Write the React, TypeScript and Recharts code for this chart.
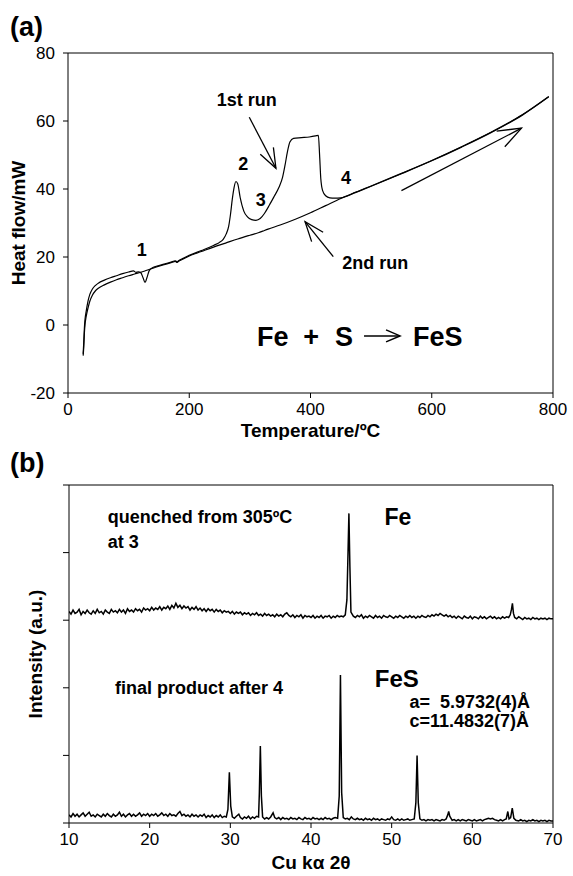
import React from "react";
import { LineChart, Line, XAxis, YAxis, ReferenceLine, ReferenceDot } from "recharts";

const FONT = "'Liberation Sans', Arial, sans-serif";
const BLACK = "#000";

// (a) DSC, 1st run
const run1Temp = [
  25, 26, 27, 28, 30, 33, 36, 40, 45, 50,
  60, 70, 80, 90, 100, 108, 112, 116, 120, 124,
  127, 130, 134, 140, 150, 160, 170, 177, 180, 183,
  190, 200, 220, 240, 250, 256, 261, 265, 268, 271,
  274, 277, 280, 284, 290, 296, 303, 310, 317, 324,
  332, 340, 348, 354, 358, 362, 366, 372, 385, 398,
  408, 413, 415, 417, 420, 425, 432, 440, 450, 475,
  500, 550, 600, 650, 700, 750, 793,
];
const run1Flow = [
  -8.5, -5, -1, 1.5, 4, 7, 9, 10.5, 11.6, 12.3,
  13.2, 13.9, 14.5, 15.1, 15.6, 15.9, 15.5, 15.6, 15.4, 13.8,
  12.5, 13.8, 16.0, 16.9, 17.5, 18.0, 18.5, 18.9, 18.6, 19.0,
  19.6, 20.5, 21.9, 23.4, 24.3, 25.2, 26.8, 29, 32.5, 37,
  40.5, 42.2, 41.5, 37.5, 33.5, 31.8, 31, 30.8, 31.3, 32.8,
  35.2, 37.8, 40.5, 43.5, 47, 51, 53.8, 54.9, 55.1, 55.3,
  55.6, 55.8, 50, 43, 39.5, 38, 37.4, 37.3, 37.4, 39.1,
  40.9, 44.6, 48.4, 52.5, 56.9, 61.9, 67.2,
];

// (a) DSC, 2nd run
const run2Temp = [
  25, 26, 27, 28, 30, 33, 36, 40, 45, 50,
  60, 70, 80, 90, 100, 110, 120, 130, 140, 150,
  160, 170, 177, 180, 183, 190, 200, 220, 240, 260,
  280, 300, 315, 321, 330, 350, 375, 400, 425, 450,
  475, 500, 550, 600, 650, 700, 750, 793,
];
const run2Flow = [
  -9, -6.5, -2.5, 0, 2.5, 5, 7, 8.7, 10, 10.8,
  11.8, 12.6, 13.3, 13.9, 14.5, 15.0, 15.5, 16.1, 16.7, 17.3,
  17.8, 18.3, 18.7, 18.4, 18.8, 19.4, 20.3, 21.6, 22.9, 24.1,
  25.3, 26.4, 27.2, 27.6, 28.2, 29.4, 31.1, 33.0, 35.1, 37.2,
  39.0, 40.8, 44.5, 48.3, 52.4, 56.8, 61.8, 67.1,
];

const dscXTicks = [0, 200, 400, 600, 800];
const dscYTicks = [-20, 0, 20, 40, 60, 80];

// (b) XRD, quenched from 305 C at 3
const quenchedAngle = [
  10, 10.25, 10.5, 10.75, 11, 11.25, 11.5, 11.75,
  12, 12.25, 12.5, 12.75, 13, 13.25, 13.5, 13.75,
  14, 14.25, 14.5, 14.75, 15, 15.25, 15.5, 15.75,
  16, 16.25, 16.5, 16.75, 17, 17.25, 17.5, 17.75,
  18, 18.25, 18.5, 18.75, 19, 19.25, 19.5, 19.75,
  20, 20.25, 20.5, 20.75, 21, 21.25, 21.5, 21.75,
  22, 22.25, 22.5, 22.75, 23, 23.25, 23.5, 23.75,
  24, 24.25, 24.5, 24.75, 25, 25.25, 25.5, 25.75,
  26, 26.25, 26.5, 26.75, 27, 27.25, 27.5, 27.75,
  28, 28.25, 28.5, 28.75, 29, 29.25, 29.5, 29.75,
  30, 30.25, 30.5, 30.75, 31, 31.25, 31.5, 31.75,
  32, 32.25, 32.5, 32.75, 33, 33.25, 33.5, 33.75,
  34, 34.25, 34.5, 34.75, 35, 35.25, 35.5, 35.75,
  36, 36.25, 36.5, 36.75, 37, 37.25, 37.5, 37.75,
  38, 38.25, 38.5, 38.75, 39, 39.25, 39.5, 39.75,
  40, 40.25, 40.5, 40.75, 41, 41.25, 41.5, 41.75,
  42, 42.25, 42.5, 42.75, 43, 43.25, 43.5, 43.75,
  44, 44.25, 44.45, 44.58, 44.7, 44.82, 44.95, 45.25,
  45.5, 45.75, 46, 46.25, 46.5, 46.75, 47, 47.25,
  47.5, 47.75, 48, 48.25, 48.5, 48.75, 49, 49.25,
  49.5, 49.75, 50, 50.25, 50.5, 50.75, 51, 51.25,
  51.5, 51.75, 52, 52.25, 52.5, 52.75, 53, 53.25,
  53.5, 53.75, 54, 54.25, 54.5, 54.75, 55, 55.25,
  55.5, 55.75, 56, 56.25, 56.5, 56.75, 57, 57.25,
  57.5, 57.75, 58, 58.25, 58.5, 58.75, 59, 59.25,
  59.5, 59.75, 60, 60.25, 60.5, 60.75, 61, 61.25,
  61.5, 61.75, 62, 62.25, 62.5, 62.75, 63, 63.25,
  63.5, 63.75, 64, 64.25, 64.5, 64.7, 64.85, 64.97,
  65.1, 65.25, 65.5, 65.75, 66, 66.25, 66.5, 66.75,
  67, 67.25, 67.5, 67.75, 68, 68.25, 68.5, 68.75,
  69, 69.25, 69.5, 69.75, 70,
];
const quenchedInt = [
  3.13, 3.09, 3.15, 3.1, 3.12, 3.16, 3.08, 3.13,
  3.1, 3.15, 3.11, 3.09, 3.14, 3.1, 3.16, 3.11,
  3.13, 3.09, 3.15, 3.12, 3.1, 3.16, 3.12, 3.14,
  3.11, 3.16, 3.12, 3.15, 3.1, 3.17, 3.13, 3.15,
  3.12, 3.17, 3.14, 3.16, 3.12, 3.18, 3.15, 3.17,
  3.14, 3.19, 3.15, 3.18, 3.16, 3.2, 3.15, 3.19,
  3.17, 3.21, 3.16, 3.22, 3.18, 3.25, 3.19, 3.22,
  3.17, 3.21, 3.18, 3.2, 3.15, 3.19, 3.16, 3.2,
  3.15, 3.18, 3.14, 3.17, 3.13, 3.17, 3.14, 3.16,
  3.12, 3.16, 3.13, 3.15, 3.11, 3.14, 3.12, 3.13,
  3.1, 3.13, 3.09, 3.12, 3.1, 3.12, 3.08, 3.11,
  3.09, 3.11, 3.07, 3.1, 3.08, 3.11, 3.07, 3.09,
  3.06, 3.1, 3.07, 3.09, 3.06, 3.08, 3.05, 3.09,
  3.06, 3.08, 3.05, 3.09, 3.11, 3.07, 3.05, 3.08,
  3.04, 3.07, 3.05, 3.08, 3.03, 3.07, 3.05, 3.06,
  3.04, 3.07, 3.03, 3.06, 3.04, 3.07, 3.03, 3.06,
  3.05, 3.07, 3.03, 3.06, 3.04, 3.07, 3.05, 3.06,
  3.05, 3.08, 3.3, 3.95, 4.58, 3.8, 3.12, 3.06,
  3.04, 3.07, 3.05, 3.08, 3.03, 3.06, 3.04, 3.07,
  3.05, 3.03, 3.07, 3.04, 3.06, 3.03, 3.07, 3.05,
  3.04, 3.07, 3.05, 3.03, 3.06, 3.04, 3.07, 3.05,
  3.03, 3.06, 3.04, 3.07, 3.04, 3.06, 3.03, 3.06,
  3.04, 3.07, 3.05, 3.04, 3.07, 3.05, 3.08, 3.06,
  3.09, 3.07, 3.1, 3.08, 3.06, 3.08, 3.05, 3.07,
  3.04, 3.06, 3.03, 3.06, 3.04, 3.02, 3.06, 3.04,
  3.03, 3.06, 3.02, 3.05, 3.04, 3.02, 3.06, 3.03,
  3.05, 3.02, 3.04, 3.06, 3.03, 3.05, 3.02, 3.04,
  3.02, 3.05, 3.03, 3.05, 3.04, 3.08, 3.16, 3.25,
  3.1, 3.04, 3.02, 3.05, 3.03, 3.01, 3.04, 3.02,
  3.03, 3.01, 3.04, 3.02, 3.03, 3.01, 3.03, 3.02,
  3.03, 3.01, 3.03, 3.02, 3.02,
];

// (b) XRD, final product after 4
const finalAngle = [
  10, 10.25, 10.5, 10.75, 11, 11.25, 11.5, 11.75,
  12, 12.25, 12.5, 12.75, 13, 13.25, 13.5, 13.75,
  14, 14.25, 14.5, 14.75, 15, 15.25, 15.5, 15.75,
  16, 16.25, 16.5, 16.75, 17, 17.25, 17.5, 17.75,
  18, 18.25, 18.5, 18.75, 19, 19.25, 19.5, 19.75,
  20, 20.25, 20.5, 20.75, 21, 21.25, 21.5, 21.75,
  22, 22.25, 22.5, 22.75, 23, 23.25, 23.5, 23.75,
  24, 24.25, 24.5, 24.75, 25, 25.25, 25.5, 25.75,
  26, 26.25, 26.5, 26.75, 27, 27.25, 27.5, 27.75,
  28, 28.25, 28.5, 28.75, 29, 29.25, 29.5, 29.7,
  29.88, 30.05, 30.25, 30.5, 30.75, 31.05, 31.25, 31.5,
  31.75, 32, 32.25, 32.5, 32.75, 33, 33.25, 33.5,
  33.6, 33.72, 33.85, 34, 34.25, 34.5, 34.75, 35,
  35.3, 35.5, 35.75, 36, 36.25, 36.5, 36.75, 37,
  37.25, 37.5, 37.75, 38, 38.25, 38.5, 38.75, 39,
  39.25, 39.5, 39.75, 40, 40.25, 40.5, 40.75, 41,
  41.25, 41.5, 41.75, 42, 42.25, 42.5, 42.75, 43,
  43.3, 43.5, 43.65, 43.8, 44, 44.25, 44.5, 44.75,
  45, 45.25, 45.5, 45.75, 46, 46.25, 46.5, 46.75,
  47, 47.25, 47.5, 47.75, 48, 48.25, 48.5, 48.75,
  49, 49.25, 49.5, 49.75, 50, 50.25, 50.5, 50.75,
  51, 51.25, 51.5, 51.75, 52, 52.25, 52.5, 52.8,
  53, 53.15, 53.3, 53.5, 53.75, 54, 54.25, 54.5,
  54.75, 55, 55.25, 55.5, 55.75, 56, 56.25, 56.5,
  56.75, 56.95, 57.07, 57.2, 57.5, 57.75, 58, 58.25,
  58.5, 58.75, 59, 59.25, 59.5, 59.75, 60, 60.25,
  60.5, 60.75, 61, 61.25, 61.5, 61.75, 62, 62.25,
  62.5, 62.75, 63, 63.25, 63.5, 63.75, 64, 64.2,
  64.4, 64.55, 64.75, 64.95, 65.15, 65.4, 65.75, 66,
  66.25, 66.5, 66.75, 67, 67.25, 67.5, 67.75, 68,
  68.25, 68.5, 68.75, 69, 69.25, 69.5, 69.75, 70,
];
const finalInt = [
  0.12, 0.09, 0.14, 0.1, 0.13, 0.09, 0.12, 0.15,
  0.1, 0.13, 0.16, 0.1, 0.12, 0.09, 0.13, 0.11,
  0.09, 0.13, 0.1, 0.14, 0.11, 0.09, 0.13, 0.1,
  0.12, 0.16, 0.1, 0.13, 0.09, 0.12, 0.14, 0.1,
  0.13, 0.1, 0.12, 0.15, 0.1, 0.13, 0.11, 0.14,
  0.1, 0.13, 0.11, 0.14, 0.1, 0.12, 0.15, 0.11,
  0.13, 0.1, 0.14, 0.11, 0.12, 0.1, 0.14, 0.17,
  0.11, 0.13, 0.1, 0.12, 0.09, 0.13, 0.1, 0.12,
  0.09, 0.12, 0.1, 0.13, 0.08, 0.11, 0.09, 0.12,
  0.08, 0.11, 0.09, 0.12, 0.08, 0.1, 0.09, 0.2,
  0.75, 0.25, 0.09, 0.07, 0.1, 0.13, 0.08, 0.06,
  0.09, 0.07, 0.1, 0.06, 0.09, 0.07, 0.1, 0.09,
  0.45, 1.14, 0.4, 0.09, 0.06, 0.08, 0.06, 0.09,
  0.15, 0.08, 0.06, 0.08, 0.05, 0.08, 0.06, 0.07,
  0.05, 0.08, 0.06, 0.07, 0.05, 0.08, 0.06, 0.05,
  0.08, 0.06, 0.07, 0.05, 0.08, 0.06, 0.07, 0.05,
  0.07, 0.05, 0.08, 0.06, 0.07, 0.05, 0.07, 0.08,
  0.07, 0.4, 2.19, 0.45, 0.08, 0.06, 0.07, 0.05,
  0.09, 0.06, 0.05, 0.07, 0.05, 0.06, 0.04, 0.07,
  0.05, 0.06, 0.04, 0.07, 0.05, 0.06, 0.04, 0.06,
  0.05, 0.04, 0.06, 0.05, 0.09, 0.05, 0.04, 0.06,
  0.04, 0.06, 0.04, 0.05, 0.06, 0.04, 0.05, 0.06,
  0.3, 1.0, 0.3, 0.06, 0.04, 0.05, 0.03, 0.05,
  0.04, 0.05, 0.03, 0.05, 0.04, 0.03, 0.05, 0.04,
  0.06, 0.12, 0.17, 0.1, 0.04, 0.05, 0.03, 0.05,
  0.03, 0.05, 0.04, 0.03, 0.05, 0.04, 0.03, 0.05,
  0.03, 0.04, 0.05, 0.03, 0.05, 0.06, 0.07, 0.06,
  0.07, 0.05, 0.04, 0.03, 0.05, 0.03, 0.05, 0.06,
  0.17, 0.06, 0.08, 0.22, 0.07, 0.04, 0.03, 0.05,
  0.03, 0.04, 0.02, 0.04, 0.03, 0.05, 0.03, 0.04,
  0.02, 0.04, 0.03, 0.04, 0.02, 0.04, 0.03, 0.03,
];

const xrdXTicks = [10, 20, 30, 40, 50, 60, 70];
const xrdYTicks = [0, 1, 2, 3, 4, 5];

const zip = (xs: number[], ys: number[]) => xs.map((x, i) => ({ x, y: ys[i] }));

const tickStyle = { fill: BLACK, fontSize: 17, fontFamily: FONT };
const titleProps = { fill: BLACK, fontSize: 19, fontWeight: "bold", fontFamily: FONT };

// bold text placed at a data point
const note = (key: string, x: number, y: number, text: string, size = 18, anchor = "middle") => (
  <ReferenceDot
    key={key}
    x={x}
    y={y}
    r={0}
    shape={(p: any) => (
      <text
        x={p.cx}
        y={p.cy}
        dy="0.36em"
        textAnchor={anchor}
        fontSize={size}
        fontWeight="bold"
        fontFamily={FONT}
        fill={BLACK}
        xmlSpace="preserve"
        style={{ whiteSpace: "pre" }}
      >
        {text}
      </text>
    )}
  />
);

// line with an open arrow head at the second point
const arrow = (key: string, from: number[], to: number[], head = 21) => (
  <ReferenceLine
    key={key}
    segment={[{ x: from[0], y: from[1] }, { x: to[0], y: to[1] }]}
    shape={(p: any) => {
      const { x1, y1, x2, y2 } = p;
      const a = Math.atan2(y2 - y1, x2 - x1);
      const w = 0.36;
      const ax = x2 - head * Math.cos(a - w);
      const ay = y2 - head * Math.sin(a - w);
      const bx = x2 - head * Math.cos(a + w);
      const by = y2 - head * Math.sin(a + w);
      return (
        <g stroke={BLACK} strokeWidth={1.3} fill="none">
          <line x1={x1} y1={y1} x2={x2} y2={y2} />
          <polyline points={`${ax},${ay} ${x2},${y2} ${bx},${by}`} />
        </g>
      );
    }}
  />
);

const Equation = (p: any) => {
  const { cx, cy } = p;
  const t = { fontSize: 27, fontWeight: "bold", fontFamily: FONT, fill: BLACK, dy: "0.36em" } as any;
  return (
    <g>
      <text x={cx - 125} y={cy} {...t}>Fe</text>
      <text x={cx - 71} y={cy} textAnchor="middle" {...t}>+</text>
      <text x={cx - 47} y={cy} {...t}>S</text>
      <g stroke={BLACK} strokeWidth={1.5} fill="none">
        <line x1={cx - 18} y1={cy} x2={cx + 18} y2={cy} />
        <polyline points={`${cx + 4},${cy - 6} ${cx + 18},${cy} ${cx + 4},${cy + 6}`} />
      </g>
      <text x={cx + 31} y={cy} {...t}>FeS</text>
    </g>
  );
};

const DscChart = () => (
  <LineChart width={573} height={440} margin={{ top: 53, right: 20, bottom: 3, left: 8 }}>
    <XAxis
      type="number"
      dataKey="x"
      domain={[0, 800]}
      ticks={dscXTicks}
      allowDataOverflow
      height={44}
      tick={tickStyle}
      tickSize={5}
      tickMargin={5}
      axisLine={{ stroke: BLACK }}
      tickLine={{ stroke: BLACK }}
      label={{ value: "Temperature/ºC", position: "insideBottom", offset: 0, ...titleProps }}
    />
    <YAxis
      type="number"
      domain={[-20, 80]}
      ticks={dscYTicks}
      allowDataOverflow
      width={60}
      tick={tickStyle}
      tickSize={5}
      tickMargin={8}
      axisLine={{ stroke: BLACK }}
      tickLine={{ stroke: BLACK }}
      label={{
        value: "Heat flow/mW",
        angle: -90,
        position: "insideLeft",
        offset: 10,
        style: { textAnchor: "middle" },
        ...titleProps,
      }}
    />
    <ReferenceLine y={80} stroke={BLACK} />
    <ReferenceLine x={800} stroke={BLACK} />
    <Line data={zip(run2Temp, run2Flow)} dataKey="y" type="monotone" stroke={BLACK} strokeWidth={1.2} dot={false} activeDot={false} isAnimationActive={false} />
    <Line data={zip(run1Temp, run1Flow)} dataKey="y" type="monotone" stroke={BLACK} strokeWidth={1.2} dot={false} activeDot={false} isAnimationActive={false} />
    {note("n1", 121.5, 22.1, "1")}
    {note("n2", 289, 47.4, "2")}
    {note("n3", 318, 37, "3")}
    {note("n4", 458.6, 43.4, "4")}
    {note("r1", 295, 66.4, "1st run")}
    {note("r2", 507, 18.3, "2nd run")}
    {arrow("a1", [299, 61.1], [343, 46.1])}
    {arrow("a2", [437.6, 20.1], [391, 30.4])}
    {arrow("a3", [550, 39.5], [748, 57.9], 25)}
    <ReferenceDot x={518} y={-3.2} r={0} shape={Equation} />
  </LineChart>
);

const XrdChart = () => (
  <LineChart width={573} height={436} margin={{ top: 45, right: 20, bottom: 7, left: 8 }}>
    <XAxis
      type="number"
      dataKey="x"
      domain={[10, 70]}
      ticks={xrdXTicks}
      allowDataOverflow
      height={46}
      tick={tickStyle}
      tickSize={5}
      tickMargin={5}
      axisLine={{ stroke: BLACK }}
      tickLine={{ stroke: BLACK }}
      label={{ value: "Cu kα 2θ", position: "insideBottom", offset: 0, ...titleProps }}
    />
    <YAxis
      type="number"
      domain={[0, 5]}
      ticks={xrdYTicks}
      allowDataOverflow
      width={61}
      tickFormatter={() => ""}
      tickSize={6}
      axisLine={{ stroke: BLACK }}
      tickLine={{ stroke: BLACK }}
      label={{
        value: "Intensity (a.u.)",
        angle: -90,
        position: "insideLeft",
        offset: 27,
        style: { textAnchor: "middle" },
        ...titleProps,
      }}
    />
    <ReferenceLine y={5} stroke={BLACK} />
    <ReferenceLine x={70} stroke={BLACK} />
    <Line data={zip(quenchedAngle, quenchedInt)} dataKey="y" type="linear" stroke={BLACK} strokeWidth={1.5} dot={false} activeDot={false} isAnimationActive={false} />
    <Line data={zip(finalAngle, finalInt)} dataKey="y" type="linear" stroke={BLACK} strokeWidth={1.5} dot={false} activeDot={false} isAnimationActive={false} />
    {note("q1", 14.8, 4.53, "quenched from 305ºC", 18, "start")}
    {note("q2", 14.8, 4.16, "at 3", 18, "start")}
    {note("fe", 49.1, 4.53, "Fe", 23, "start")}
    {note("f1", 15.7, 2.01, "final product after 4", 18, "start")}
    {note("fes", 47.9, 2.14, "FeS", 24, "start")}
    {note("la", 52.2, 1.8, "a=  5.9732(4)Å", 18, "start")}
    {note("lc", 52.2, 1.51, "c=11.4832(7)Å", 18, "start")}
  </LineChart>
);

export default function App() {
  const panel = { position: "absolute" as const, left: 10, fontSize: 27, fontWeight: "bold" as const, lineHeight: "30px", fontFamily: FONT };
  return (
    <div style={{ position: "absolute", left: 0, top: 0, width: 573, height: 876, background: "#fff" }}>
      <div style={{ position: "absolute", left: 0, top: 0 }}>
        <DscChart />
      </div>
      <div style={{ position: "absolute", left: 0, top: 440 }}>
        <XrdChart />
      </div>
      <div style={{ ...panel, top: 12 }}>(a)</div>
      <div style={{ ...panel, top: 448 }}>(b)</div>
    </div>
  );
}
